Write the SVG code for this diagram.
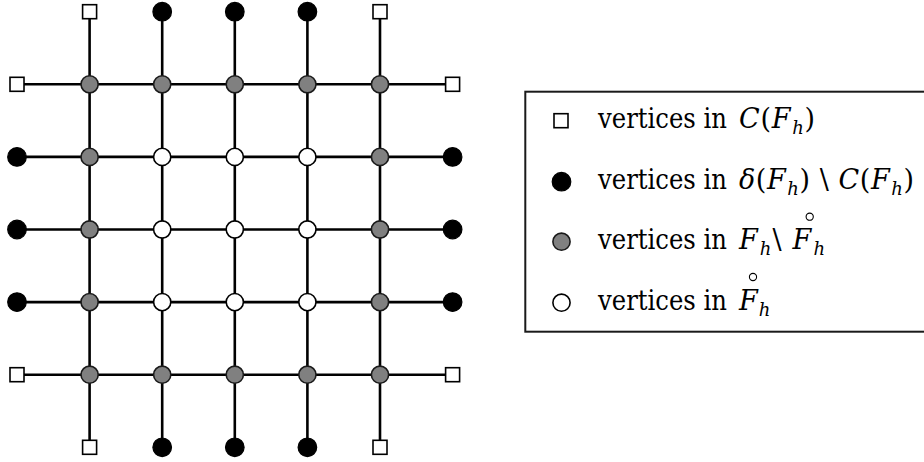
<svg xmlns="http://www.w3.org/2000/svg" width="924" height="462" viewBox="0 0 924 462">
<style>
.edge{stroke:#000;stroke-width:2.6;fill:none}
.sq{fill:#fff;stroke:#000;stroke-width:1.6}
.blk{fill:#000;stroke:#000;stroke-width:1.2}
.gry{fill:#808080;stroke:#1a1a1a;stroke-width:1.6}
.wht{fill:#fff;stroke:#000;stroke-width:1.6}
text{font-family:'DejaVu Serif',serif;fill:#000;font-size:27px}
.i{font-style:italic}
.s{font-size:18px;font-style:italic}
.ring{fill:none;stroke:#000;stroke-width:1.1}
</style>
<defs>
<rect id="S" x="-7" y="-7" width="14" height="14" class="sq"/>
<circle id="B" r="9.3" class="blk"/>
<circle id="G" r="8.6" class="gry"/>
<circle id="W" r="8.6" class="wht"/>
</defs>
<g id="connectors">
<line class="edge" x1="17" y1="84.3" x2="452.6" y2="84.3"/>
<line class="edge" x1="17" y1="156.9" x2="452.6" y2="156.9"/>
<line class="edge" x1="17" y1="229.5" x2="452.6" y2="229.5"/>
<line class="edge" x1="17" y1="302.1" x2="452.6" y2="302.1"/>
<line class="edge" x1="17" y1="374.7" x2="452.6" y2="374.7"/>
<line class="edge" x1="89.6" y1="11.7" x2="89.6" y2="447.3"/>
<line class="edge" x1="162.2" y1="11.7" x2="162.2" y2="447.3"/>
<line class="edge" x1="234.8" y1="11.7" x2="234.8" y2="447.3"/>
<line class="edge" x1="307.4" y1="11.7" x2="307.4" y2="447.3"/>
<line class="edge" x1="380" y1="11.7" x2="380" y2="447.3"/>
</g>
<g id="boundary-top">
<use id="t1" href="#S" x="89.6" y="11.7"/>
<use id="t2" href="#B" x="162.2" y="11.7"/>
<use id="t3" href="#B" x="234.8" y="11.7"/>
<use id="t4" href="#B" x="307.4" y="11.7"/>
<use id="t5" href="#S" x="380" y="11.7"/>
</g>
<g id="boundary-bottom">
<use id="b1" href="#S" x="89.6" y="447.3"/>
<use id="b2" href="#B" x="162.2" y="447.3"/>
<use id="b3" href="#B" x="234.8" y="447.3"/>
<use id="b4" href="#B" x="307.4" y="447.3"/>
<use id="b5" href="#S" x="380" y="447.3"/>
</g>
<g id="boundary-left">
<use id="l1" href="#S" x="17" y="84.3"/>
<use id="l2" href="#B" x="17" y="156.9"/>
<use id="l3" href="#B" x="17" y="229.5"/>
<use id="l4" href="#B" x="17" y="302.1"/>
<use id="l5" href="#S" x="17" y="374.7"/>
</g>
<g id="boundary-right">
<use id="r1" href="#S" x="452.6" y="84.3"/>
<use id="r2" href="#B" x="452.6" y="156.9"/>
<use id="r3" href="#B" x="452.6" y="229.5"/>
<use id="r4" href="#B" x="452.6" y="302.1"/>
<use id="r5" href="#S" x="452.6" y="374.7"/>
</g>
<g id="interior">
<use id="n11" href="#G" x="89.6" y="84.3"/>
<use id="n12" href="#G" x="162.2" y="84.3"/>
<use id="n13" href="#G" x="234.8" y="84.3"/>
<use id="n14" href="#G" x="307.4" y="84.3"/>
<use id="n15" href="#G" x="380" y="84.3"/>
<use id="n21" href="#G" x="89.6" y="156.9"/>
<use id="n22" href="#W" x="162.2" y="156.9"/>
<use id="n23" href="#W" x="234.8" y="156.9"/>
<use id="n24" href="#W" x="307.4" y="156.9"/>
<use id="n25" href="#G" x="380" y="156.9"/>
<use id="n31" href="#G" x="89.6" y="229.5"/>
<use id="n32" href="#W" x="162.2" y="229.5"/>
<use id="n33" href="#W" x="234.8" y="229.5"/>
<use id="n34" href="#W" x="307.4" y="229.5"/>
<use id="n35" href="#G" x="380" y="229.5"/>
<use id="n41" href="#G" x="89.6" y="302.1"/>
<use id="n42" href="#W" x="162.2" y="302.1"/>
<use id="n43" href="#W" x="234.8" y="302.1"/>
<use id="n44" href="#W" x="307.4" y="302.1"/>
<use id="n45" href="#G" x="380" y="302.1"/>
<use id="n51" href="#G" x="89.6" y="374.7"/>
<use id="n52" href="#G" x="162.2" y="374.7"/>
<use id="n53" href="#G" x="234.8" y="374.7"/>
<use id="n54" href="#G" x="307.4" y="374.7"/>
<use id="n55" href="#G" x="380" y="374.7"/>
</g>
<g id="legend">
<rect x="525.3" y="91.7" width="420" height="240" fill="#fff" stroke="#1a1a1a" stroke-width="2"/>
<use href="#S" x="561" y="120.7"/>
<use href="#B" x="561.5" y="181.7"/>
<use href="#G" x="561.5" y="241.7"/>
<use href="#W" x="561.5" y="302.7"/>
<text x="598" y="128.3" textLength="129" lengthAdjust="spacingAndGlyphs">vertices in</text>
<text x="598" y="189.3" textLength="129" lengthAdjust="spacingAndGlyphs">vertices in</text>
<text x="598" y="249.3" textLength="129" lengthAdjust="spacingAndGlyphs">vertices in</text>
<text x="598" y="310" textLength="129" lengthAdjust="spacingAndGlyphs">vertices in</text>
<text x="739" y="128.3" textLength="76" lengthAdjust="spacing"><tspan class="i">C</tspan>(<tspan class="i">F</tspan><tspan class="s" dx="1" dy="6">h</tspan><tspan dy="-6">)</tspan></text>
<text x="739" y="189.3" textLength="175" lengthAdjust="spacing"><tspan class="i">δ</tspan>(<tspan class="i">F</tspan><tspan class="s" dx="1" dy="6">h</tspan><tspan dy="-6">) \ </tspan><tspan class="i">C</tspan>(<tspan class="i">F</tspan><tspan class="s" dx="1" dy="6">h</tspan><tspan dy="-6">)</tspan></text>
<text x="739" y="249.3" textLength="86" lengthAdjust="spacing"><tspan class="i">F</tspan><tspan class="s" dx="1" dy="6">h</tspan><tspan dy="-6">\ </tspan><tspan class="i">F</tspan><tspan class="s" dx="1" dy="6">h</tspan></text>
<circle class="ring" cx="809.7" cy="216.7" r="3.6"/>
<text x="739" y="310"><tspan class="i">F</tspan><tspan class="s" dx="1" dy="6">h</tspan></text>
<circle class="ring" cx="753" cy="277" r="3.6"/>
</g>
</svg>
